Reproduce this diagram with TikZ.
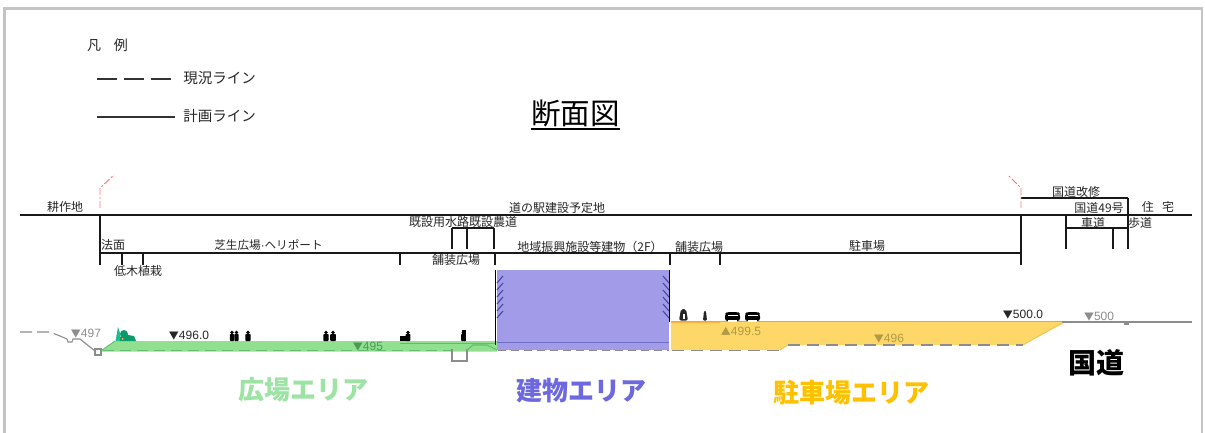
\documentclass[tikz,border=0pt]{standalone}
\usepackage{xcolor}
\usepackage{fontspec}
\setmainfont{Noto Sans CJK JP}
\newfontfamily\numfont{Liberation Sans}
\usetikzlibrary{positioning}

\definecolor{greenarea}{HTML}{90E090}
\definecolor{greenline}{HTML}{62BE6E}
\definecolor{greentext}{HTML}{9DE3A4}
\definecolor{purplearea}{HTML}{A29BE8}
\definecolor{purpleline}{HTML}{4A46A8}
\definecolor{purpletext}{HTML}{6D68DE}
\definecolor{yellowarea}{HTML}{FDD768}
\definecolor{yellowtext}{HTML}{FFC000}
\definecolor{olivetext}{HTML}{B09A45}
\definecolor{framegray}{HTML}{C4C4C4}
\definecolor{linegray}{HTML}{8C8C8C}
\definecolor{treegreen}{HTML}{1CC08E}
\definecolor{bushgreen}{HTML}{0C9A6C}

\newcommand{\tridown}{{\rmfamily\fontsize{10}{10}\selectfont ▼}}
\newcommand{\triup}{{\rmfamily\fontsize{10}{10}\selectfont ▲}}

\tikzset{
  label/.style={inner sep=0pt,font=\fontsize{12}{12}\selectfont,text=black!85},
  legendlabel/.style={inner sep=0pt,font=\fontsize{14.5}{14.5}\selectfont,text=black!85},
  level/.style={inner sep=0pt,font=\numfont\fontsize{12}{12}\selectfont},
  area/.style={inner sep=0pt,font=\fontsize{26}{26}\selectfont\bfseries},
  planline/.style={black!90,line width=1.5pt},
  redline/.style={red!55,line width=0.9pt,dash pattern=on 7pt off 2pt on 2pt off 2pt},
}

\begin{document}
\begin{tikzpicture}[x=1pt,y=-1pt]
\useasboundingbox (0,0) rectangle (1205,433);

% Frame
\draw[framegray,line width=2.2pt] (4.5,433) -- (4.5,8.5) -- (1202,8.5) -- (1202,433);

% Legend
\node[legendlabel,font=\fontsize{14}{14}\selectfont] (legendtitle) at (107.5,45) {凡\hspace{0.9em}例};
\draw[black!80,line width=1.7pt,dash pattern=on 20pt off 7pt] (97,79) -- (175,79);
\node[legendlabel] (legendexist) at (219.5,78) {現況ライン};
\draw[black!80,line width=1.7pt] (97,117) -- (175,117);
\node[legendlabel] (legendplan) at (219.5,116) {計画ライン};

% Title
\node[inner sep=0pt,font=\fontsize{29.5}{29.5}\selectfont] (title) at (575.5,113.5) {断面図};
\draw[black,line width=1.3pt] (531,129) -- (620,129);

% Top lines
\draw[planline] (20,215) -- (1192,215);
\draw[planline] (100,253) -- (1021,253);
\draw[planline] (1021,198) -- (1128,198);
\draw[planline] (452,228) -- (494,228);
\draw[planline] (1066,228) -- (1128,228);

% Ticks
\draw[planline] (100,215) -- (100,265);
\draw[planline] (1021,215) -- (1021,265);
\foreach \x in {122,143,400,495,670,720}
  \draw[planline] (\x,253) -- (\x,265);
\foreach \x in {452,467,494}
  \draw[planline] (\x,228) -- (\x,249);
\draw[planline] (1066,215) -- (1066,249);
\draw[planline] (1113,228) -- (1113,249);
\draw[planline] (1128,198) -- (1128,249);

% Red limit lines
\draw[redline] (100,208) -- (100,188) -- (114,175);
\draw[redline] (1021,208) -- (1021,188) -- (1008,175);

% Labels above the section
\node[label] (field) at (65,207) {耕作地};
\node[label] (site) at (557,208) {道の駅建設予定地};
\node[label] (slope) at (113,245) {法面};
\node[label,font=\fontsize{11.6}{11.6}\selectfont] (lawn) at (268.5,245) {芝生広場{\numfont·}ヘリポート};
\node[label] (shrub) at (138,271) {低木植栽};
\node[label] (canal) at (463,222) {既設用水路既設農道};
\node[label] (pave) at (456,260) {舗装広場};
\node[label] (building) at (590,247) {地域振興施設等建物（2F）};
\node[label] (paveb) at (699,247) {舗装広場};
\node[label] (parking) at (867,246) {駐車場};
\node[label] (improve) at (1076,192) {国道改修};
\node[label] (route) at (1099,208) {国道49号};
\node[label] (house) at (1158,207) {住\hspace{0.7em}宅};
\node[label] (carway) at (1093,223) {車道};
\node[label] (walkway) at (1140,223) {歩道};

% Green area
\fill[greenarea] (100,351.5) -- (115,341) -- (497,341) -- (497,351.5) -- cycle;
\draw[greenline,line width=0.9pt] (100,351.5) -- (115,341);
\draw[greenline!70!olivetext,line width=1pt] (400,343) -- (495,343);

% Purple area
\fill[purplearea] (497,270) rectangle (669,350);
\draw[purpleline!55!purplearea,line width=0.7pt] (497,342) -- (669,342);
\foreach \y in {283,290,...,318}
  \draw[purpleline,line width=1.1pt] (497,\y) -- (503,\y-7);
\foreach \y in {283,290,...,318}
  \draw[purpleline,line width=1.1pt] (669,\y) -- (663,\y-7);
\draw[black,line width=1.3pt] (495.5,270) -- (495.5,345);
\draw[black,line width=1.3pt] (669.5,270) -- (669.5,322);

% Yellow area
\fill[yellowarea] (671,322) -- (1066,322) -- (1023,345) -- (788,345) -- (780,350) -- (671,350) -- cycle;
\draw[yellowarea!75!olivetext,line width=0.9pt] (1062,323) -- (1023,345);
\draw[yellowarea!75!olivetext,line width=0.9pt] (788,345) -- (780,350);
\draw[linegray!70,line width=0.8pt] (671,321.5) -- (1062,321.5);
\draw[yellowarea!60!orange,line width=0.9pt] (671,322.5) -- (720,322.5);

% Existing ground line
\draw[linegray,line width=1.1pt,dash pattern=on 12pt off 5pt] (20,332) -- (50,332) -- (60,336);
\draw[linegray,line width=1.1pt] (60,336) -- (67,339) -- (68,342) -- (72,342) -- (73,339) -- (80,339) -- (95,351);
\draw[linegray,line width=1.6pt,fill=white] (95,349) rectangle (101,355);
\draw[greenline,line width=1.1pt,dash pattern=on 11pt off 6pt] (103,350.5) -- (452,350.5);
\draw[linegray,line width=1.4pt] (452,349) -- (452,361) -- (467,361) -- (467,349);
\draw[greenline,line width=1.1pt] (467,350) -- (473,345) -- (487,345) -- (497,350);
\draw[linegray,line width=1.2pt,dash pattern=on 8pt off 5pt] (498,350.5) -- (669,350.5);
\draw[linegray,line width=1.2pt,dash pattern=on 12pt off 7pt] (672,350.5) -- (780,350.5);
\draw[linegray,line width=1.2pt,dash pattern=on 12pt off 7pt] (788,345) -- (1023,345);
\draw[linegray,line width=1.1pt] (1062,322) -- (1192,322);
\fill[linegray] (1123.5,322) rectangle (1128.5,325);

% Levels
\node[level,text=linegray] (lvla) at (86,334) {\tridown 497};
\node[level,text=black!85] (lvlb) at (189,336) {\tridown 496.0};
\node[level,text=greenline!80!black] (lvlc) at (368,347) {\tridown 495};
\node[level,text=olivetext] (lvld) at (741,331) {\triup 499.5};
\node[level,text=olivetext] (lvle) at (889,339) {\tridown 496};
\node[level,text=black!85] (lvlf) at (1023,315) {\tridown 500.0};
\node[level,text=linegray] (lvlg) at (1099,317) {\tridown 500};

% Trees
\fill[treegreen] (115.5,341) -- (118,327) -- (120,333) -- (121,341) -- cycle;
\fill[bushgreen] (124,334) circle (4);
\fill[bushgreen] (120,341) -- (120,337) -- (128,335) -- (134,336) -- (136,341) -- cycle;
\fill[orange!70] (122.5,339) circle (1.2);

% People on the green area
\foreach \x/\w in {232/2.2,236.5/2.2,248/2.6,326/2.6,333/2.8,408/2.4,463.5/2.4} {
  \fill[black] (\x,332.5) circle (1.9);
  \fill[black,rounded corners=0.8pt] (\x-\w,334) rectangle (\x+\w,341);
}
\fill[black] (399.5,336) rectangle (407,341);
\fill[black] (461.5,330) rectangle (465.5,341);

% People and cars on the yellow area
\fill[black!85,rounded corners=2pt] (679,320.5) -- (681,309) -- (686,309) -- (688,320.5) -- cycle;
\fill[white] (683,314) rectangle (685,319);
\fill[black!85,rounded corners=1pt] (703,320.5) -- (704,311) -- (706,311) -- (707,320.5) -- cycle;
\foreach \x in {725,745} {
  \fill[black,rounded corners=2.5pt] (\x,321) -- (\x,314) -- (\x+2,312) -- (\x+13,312) -- (\x+15,314) -- (\x+15,321) -- cycle;
  \fill[white] (\x+2.5,315) rectangle (\x+12.5,316);
  \fill[white] (\x+3,319.5) rectangle (\x+12,321.5);
}

% Area names
\node[area,text=greentext] (areagreen) at (303,390) {広場エリア};
\node[area,text=purpletext] (areabuilding) at (581,391) {建物エリア};
\node[area,text=yellowtext] (areaparking) at (851,393) {駐車場エリア};
\node[area,font=\fontsize{28}{28}\selectfont\bfseries,text=black] (arearoad) at (1096,363) {国道};
\end{tikzpicture}
\end{document}
